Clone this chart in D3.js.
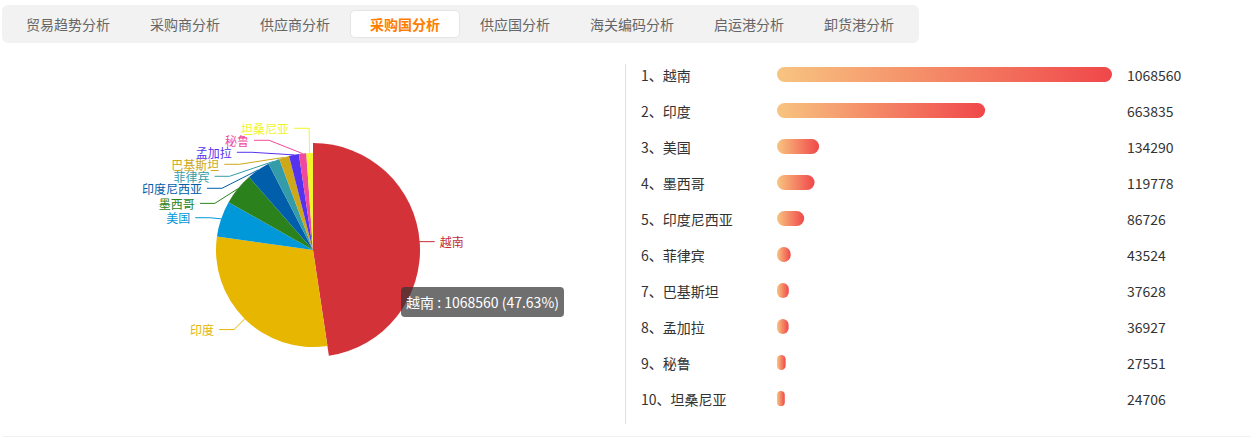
<!DOCTYPE html>
<html><head><meta charset="utf-8">
<script src="https://cdn.jsdelivr.net/npm/d3@7"></script>
<style>
html,body{margin:0;padding:0;background:#fff;}
body{width:1257px;height:438px;overflow:hidden;position:relative;font-family:"Noto Sans CJK SC","Microsoft YaHei",sans-serif;}
#tip{position:absolute;background:rgba(50,50,50,0.7);color:#fff;font-size:14px;line-height:20px;padding:5px;border-radius:4px;white-space:nowrap;font-family:"Noto Sans CJK SC",sans-serif;}
</style></head><body>
<svg id="chart" width="1257" height="438"></svg>
<div id="tip"></div>
<script>
// ---------- data ----------
const tabs = ["贸易趋势分析","采购商分析","供应商分析","采购国分析","供应国分析","海关编码分析","启运港分析","卸货港分析"];
const activeTab = "采购国分析";
const countries = ["越南","印度","美国","墨西哥","印度尼西亚","菲律宾","巴基斯坦","孟加拉","秘鲁","坦桑尼亚"];
const values = [1068560,663835,134290,119778,86726,43524,37628,36927,27551,24706];
const colors = ["#c12e34","#e6b600","#0098d9","#2b821d","#005eaa","#339ca8","#cda819","#5533ee","#ef4a9d","#f2f52a"];
const highlighted = "越南";

const data = countries.map((c,i)=>({name:c,value:values[i],color:colors[i]}));
const total = d3.sum(values);
const svg = d3.select("#chart");
const FONT = '"Noto Sans CJK SC","Microsoft YaHei",sans-serif';

// ---------- tabs ----------
svg.append("rect").attr("x",2).attr("y",5).attr("width",917).attr("height",38).attr("rx",6).attr("fill","#f2f2f2");
let tx = 6;
tabs.forEach(t=>{
  const w = t.length*14+40;
  const active = t===activeTab;
  if(active){
    svg.append("rect").attr("x",tx+0.5).attr("y",10.5).attr("width",w-1).attr("height",27).attr("rx",4)
      .attr("fill","#fff").attr("stroke","#e4e4e8");
  }
  svg.append("text").attr("x",tx+w/2).attr("y",24).attr("text-anchor","middle").attr("dominant-baseline","central")
    .attr("font-family",FONT).attr("font-size",14).attr("font-weight",active?"bold":"normal")
    .attr("fill",active?"#ff7d00":"#666").text(t);
  tx += w;
});

// ---------- pie ----------
const cx = 313, cy = 250, R = 97, hoverOffset = 10;
const len1 = 15, len2 = 15, labelDist = 5, labelH = 12;
const pie = d3.pie().value(d=>d.value).sort(null);
const arcs = pie(data);
const arcN = d3.arc().innerRadius(0).outerRadius(R);
const arcH = d3.arc().innerRadius(0).outerRadius(R+hoverOffset);
const lift = c=>{const r=d3.rgb(c);return d3.rgb(Math.min(255,r.r*1.1|0),Math.min(255,r.g*1.1|0),Math.min(255,r.b*1.1|0)).formatHex();};

// label layout (ECharts 4 style)
const labels = arcs.map(a=>{
  const mid=(a.startAngle+a.endAngle)/2;
  const dx=Math.sin(mid), dy=-Math.cos(mid);
  const x1=cx+R*dx, y1=cy+R*dy;
  const x2=x1+dx*len1, y2=y1+dy*len1;
  const x3=x2+(dx<0?-1:1)*len2;
  return {d:a.data, x:x3+(dx<0?-labelDist:labelDist), y:y2, height:labelH, left:dx<0,
          linePoints:[[x1,y1],[x2,y2],[x3,y2]]};
});
function adjustSide(list, dir, viewTop, viewHeight){
  list.sort((a,b)=>a.y-b.y);
  function shiftDown(start,end,delta){
    for(let j=start;j<end;j++){
      if(list[j].y+delta>viewTop+viewHeight) break;
      list[j].y+=delta;
      if(j>start && j+1<end && list[j+1].y>list[j].y+list[j].height){shiftUp(j,delta/2);return;}
    }
    shiftUp(end-1,delta/2);
  }
  function shiftUp(end,delta){
    for(let j=end;j>=0;j--){
      if(list[j].y-delta<viewTop) break;
      list[j].y-=delta;
      if(j>0 && list[j].y>list[j-1].y+list[j-1].height) break;
    }
  }
  function changeX(l,isDown){
    let last = isDown?Number.MAX_VALUE:0;
    l.forEach(it=>{
      const dY=Math.abs(it.y-cy);
      let dX = dY<R+len1 ? Math.sqrt((R+len1+len2)**2-dY*dY) : Math.abs(it.x-cx);
      if(isDown && dX>=last) dX=last-10;
      if(!isDown && dX<=last) dX=last+10;
      it.x=cx+dX*dir; last=dX;
    });
  }
  let lastY=0;
  for(let i=0;i<list.length;i++){
    const delta=list[i].y-lastY;
    if(delta<0) shiftDown(i,list.length,-delta);
    lastY=list[i].y+list[i].height;
  }
  changeX(list.filter(d=>d.y<cy),false);
  changeX(list.filter(d=>d.y>=cy),true);
}
adjustSide(labels.filter(l=>l.left),-1,50,390);
adjustSide(labels.filter(l=>!l.left),1,50,390);
labels.forEach(l=>{
  const lp=l.linePoints;
  const dist=lp[1][0]-lp[2][0];
  lp[2][0]= l.x<cx ? l.x+labelDist : l.x-labelDist;
  lp[1][0]=lp[2][0]+dist;
  lp[1][1]=lp[2][1]=l.y;
});

const gPie = svg.append("g");
gPie.selectAll("polyline").data(labels).join("polyline")
  .attr("points",d=>d.linePoints.map(p=>p.join(",")).join(" "))
  .attr("fill","none").attr("stroke",d=>d.d.color).attr("stroke-width",1);
gPie.selectAll("path").data(arcs).join("path")
  .attr("transform",`translate(${cx},${cy})`)
  .attr("d",d=>d.data.name===highlighted?arcH(d):arcN(d))
  .attr("fill",d=>d.data.name===highlighted?lift(d.data.color):d.data.color);
gPie.selectAll("text").data(labels).join("text")
  .attr("x",d=>d.x).attr("y",d=>d.y)
  .attr("text-anchor",d=>d.left?"end":"start").attr("dominant-baseline","central")
  .attr("font-family",FONT).attr("font-size",12).attr("fill",d=>d.d.color).text(d=>d.d.name);

// tooltip
const hd = data.find(d=>d.name===highlighted);
d3.select("#tip").style("left",(cx+88)+"px").style("top",(cy+37)+"px")
  .text(`${hd.name} : ${hd.value} (${(hd.value/total*100).toFixed(2)}%)`);

// ---------- ranking ----------
svg.append("line").attr("x1",625.5).attr("x2",625.5).attr("y1",64).attr("y2",424).attr("stroke","#e0e0e0");
const defs = svg.append("defs");
const grad = defs.append("linearGradient").attr("id","barGrad").attr("x1","0").attr("x2","1").attr("y1","0").attr("y2","0");
grad.append("stop").attr("offset","0").attr("stop-color","#f8c480");
grad.append("stop").attr("offset","1").attr("stop-color","#f0474a");
const barX = d3.scaleLinear().domain([0,d3.max(values)]).range([777,1112]);
const rowY = d3.scalePoint().domain(countries).range([74.5,398.5]);
const barH = 15;
const gRank = svg.append("g");
gRank.selectAll("text.name").data(data).join("text").attr("class","name")
  .attr("x",641).attr("y",d=>rowY(d.name)).attr("dominant-baseline","central")
  .attr("font-family",FONT).attr("font-size",14).attr("fill","#333")
  .text((d,i)=>`${i+1}、${d.name}`);
gRank.selectAll("rect").data(data).join("rect")
  .attr("x",barX(0)).attr("y",d=>rowY(d.name)-barH/2)
  .attr("width",d=>barX(d.value)-barX(0)).attr("height",barH)
  .attr("rx",d=>Math.min(barH/2,(barX(d.value)-barX(0))/2))
  .attr("fill","url(#barGrad)");
gRank.selectAll("text.val").data(data).join("text").attr("class","val")
  .attr("x",1127).attr("y",d=>rowY(d.name)).attr("dominant-baseline","central")
  .attr("font-family",FONT).attr("font-size",14).attr("fill","#333").text(d=>d.value);

svg.append("line").attr("x1",3).attr("x2",1250).attr("y1",436.5).attr("y2",436.5).attr("stroke","#f0f0f0");
</script>
</body></html>
